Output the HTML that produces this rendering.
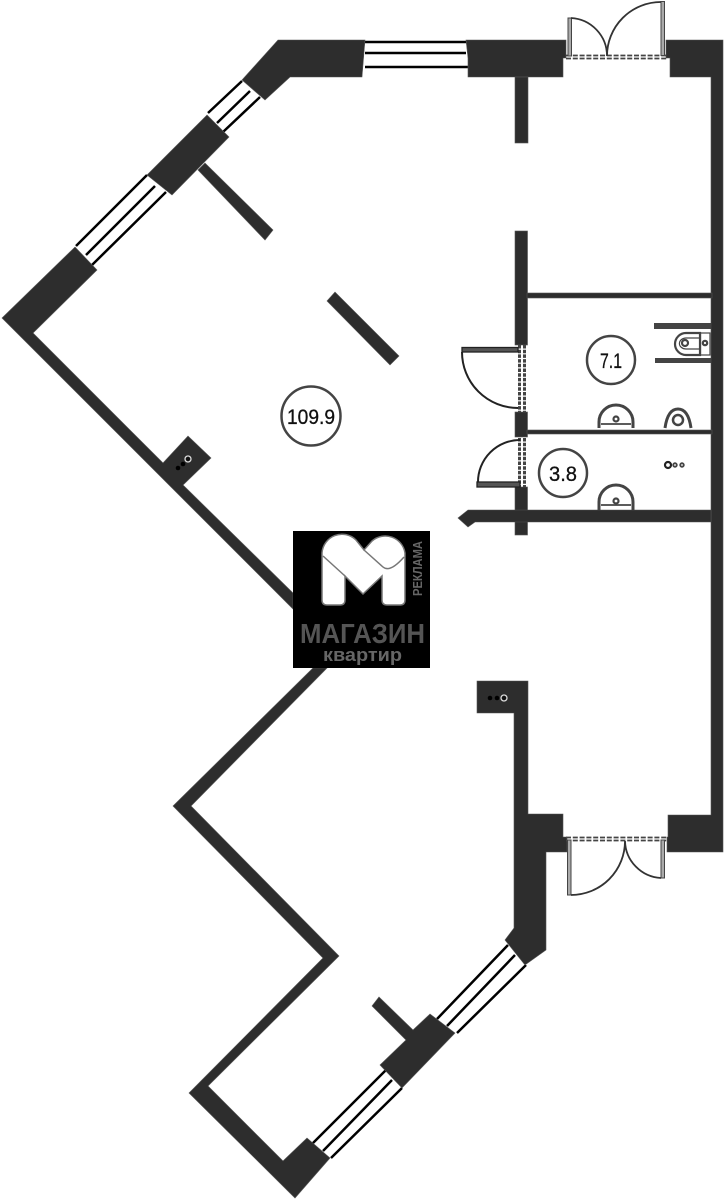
<!DOCTYPE html>
<html><head><meta charset="utf-8"><style>
html,body{margin:0;padding:0;background:#fff;width:724px;height:1200px;overflow:hidden}
svg{display:block}
text{font-family:"Liberation Sans",sans-serif}
</style></head><body>
<svg width="724" height="1200" viewBox="0 0 724 1200" xmlns="http://www.w3.org/2000/svg">
<rect width="724" height="1200" fill="#fff"/>
<!-- windows -->
<g stroke="#000" stroke-width="2.500" fill="none">
<path d="M365 42H466M365 53H466M365 67H468"/>
<path d="M208 113L242 81M217 123L250 91M223 132L260 97"/>
<path d="M76 246L147 175M86 255L155 186M92 265L166 192"/>
<path d="M312 1144L386 1070M323 1151L392 1080M331 1158L402 1088"/>
<path d="M437 1019L508 945M447 1026L515 955M457 1033L526 965"/>
</g>
<!-- walls -->
<g fill="#2d2d2d" stroke="#555" stroke-width="0.6">
<polygon points="278,40 365,40 362,77 290,77 265,100 242,80"/>
<polygon points="207,115 229,137 172,195 147,175"/>
<polygon points="198,170 205,163 273,230 265,240"/>
<polygon points="75,247 97,270 33,333 163,463 188,436 211,458 183,485 293,593 293,609 2,318"/>
<polygon points="327,301 335,292 399,356 390,365"/>
<polygon points="466,40 566,40 566,58 563,58 563,77 468,77 468,58"/>
<rect x="515" y="77" width="13" height="66"/>
<polygon points="666,40 723,40 723,852 667,852 667,837 668,837 668,815 711,815 711,77 670,77 670,58 666,58"/>
<rect x="515" y="231" width="12.5" height="114"/>
<rect x="515" y="412" width="12.5" height="25"/>
<rect x="515" y="487" width="12.5" height="48"/>
<rect x="527" y="293" width="185" height="5"/>
<rect x="527" y="430" width="185" height="4"/>
<polygon points="458,518 468,510 711,510 711,522 475,522 468,527"/>
<polygon points="477,681 528,681 528,814 563,814 563,837 567,837 567,852 546,852 546,950 525,965 505,940 514,928 514,713 477,713"/>
<polygon points="313,668 173,806 323,958 189,1093 295,1198 330,1158 307,1138 283,1161 208,1086 339,956 191,806 327,668"/>
<polygon points="380,1065 406,1040 372,1006 379,997 413,1030 430,1014 455,1033 402,1088"/>
</g>
<!-- duct dots -->
<g fill="#000"><circle cx="183" cy="464" r="2.300"/><circle cx="178" cy="468" r="2.300"/><circle cx="497" cy="698" r="2.300"/><circle cx="490" cy="698" r="2.300"/></g>
<g fill="#111" stroke="#ddd" stroke-width="1.300"><circle cx="188" cy="459" r="3"/><circle cx="504" cy="698" r="3"/></g>
<!-- entrance doors -->
<g fill="none" stroke="#333" stroke-width="1.800">
<path d="M566 55.5H667M566 58.5H667" stroke-dasharray="5 1.8" stroke="#444"/>
<path d="M566 837.5H667M566 840.5H667" stroke-dasharray="5 1.8" stroke="#444"/>
<rect x="568" y="18" width="3.5" height="38" fill="#aaa" stroke="#444" stroke-width="1"/>
<rect x="661" y="1.5" width="3.5" height="54" fill="#aaa" stroke="#444" stroke-width="1"/>
<path d="M571 18A38 38 0 0 1 607 56M661 2A54 54 0 0 0 607 56"/>
<rect x="567.5" y="840" width="3.5" height="55" fill="#aaa" stroke="#444" stroke-width="1"/>
<rect x="661" y="840" width="3.5" height="38" fill="#aaa" stroke="#444" stroke-width="1"/>
<path d="M571 895A54 54 0 0 0 625 841M661 878A38 38 0 0 1 625 841"/>
</g>
<!-- bath doors -->
<g fill="none" stroke="#444">
<path d="M519.500 345V412M524.500 345V412M519.500 438V487M524.500 438V487" stroke-width="3" stroke-dasharray="3.500 1.200"/>
</g>
<g fill="none" stroke="#222" stroke-width="2">
<rect x="462" y="347.500" width="56" height="4.500" fill="#555" stroke-width="1.300"/>
<path d="M462 352A56 56 0 0 0 518 408"/>
<rect x="477" y="482" width="43" height="5" fill="#555" stroke-width="1.300"/>
<path d="M478 482A42 42 0 0 1 520 440"/>
</g>
<!-- circles & labels -->
<g fill="none" stroke="#444" stroke-width="2.500">
<circle cx="311" cy="416" r="29.500"/>
<circle cx="611" cy="360" r="24"/>
<circle cx="563" cy="473" r="24"/>
</g>
<g fill="#111" stroke="#111" stroke-width="0.300" font-size="21" text-anchor="middle">
<text x="311" y="424" textLength="48" lengthAdjust="spacingAndGlyphs">109.9</text>
<text x="611" y="368" textLength="22" lengthAdjust="spacingAndGlyphs">7.1</text>
<text x="563" y="481" textLength="28" lengthAdjust="spacingAndGlyphs">3.8</text>
</g>
<!-- fixtures -->
<g fill="#444"><rect x="654" y="323" width="57" height="6"/><rect x="655" y="358" width="56" height="5"/></g>
<g fill="none" stroke="#444" stroke-width="2.200">
<path d="M700 333H686A11 11 0 0 0 686 355H700Z"/>
<rect x="700.500" y="333" width="9.500" height="22" stroke-width="1.200"/>
<circle cx="685" cy="343" r="3"/><circle cx="705" cy="343" r="2.200"/>
<path d="M699 338H686A6 5 0 0 0 686 349H699" stroke-width="1.200"/>
<path d="M599 428V422A17 17 0 0 1 633 422V428" stroke-width="3"/>
<path d="M601 424H631" stroke-width="1.800"/>
<circle cx="616" cy="419" r="2.500"/>
<path d="M665 428C667 414 672 409 678 409C684 409 689 414 691 428" stroke-width="3"/>
<circle cx="678" cy="420" r="5" stroke-width="2.500"/>
<path d="M599 510V502A17 17 0 0 1 633 502V510" stroke-width="3"/>
<path d="M601 505H631" stroke-width="1.800"/>
<circle cx="616" cy="501" r="2.500"/>
<circle cx="668" cy="465" r="3" stroke="#222"/>
<circle cx="675" cy="465" r="1.800" stroke-width="1.800"/>
<circle cx="682" cy="465" r="1.800" stroke-width="1.800"/>
</g>
<!-- logo -->
<rect x="293" y="531" width="137" height="137" fill="#000"/>
<path d="M322 553A20 20 0 0 1 356 540L364 550L372 541A20 20 0 0 1 405 553V600Q405 605 400 605H387Q382 605 382 600V576L363 594L345 576V600Q345 605 340 605H327Q322 605 322 600Z" fill="#fff" stroke="#777" stroke-width="1.500"/>
<path d="M323 556L345 576M364 550L383 567Q390 573 404 557" fill="none" stroke="#777" stroke-width="1.500"/>
<text x="300" y="643" font-size="28" font-weight="bold" fill="#555" textLength="125" lengthAdjust="spacingAndGlyphs">МАГАЗИН</text>
<text x="323" y="661" font-size="18" font-weight="bold" fill="#666" textLength="79" lengthAdjust="spacingAndGlyphs">квартир</text>
<text transform="translate(422 596) rotate(-90)" font-size="12.500" font-weight="bold" fill="#666" textLength="55" lengthAdjust="spacingAndGlyphs">РЕКЛАМА</text>
</svg>
</body></html>
